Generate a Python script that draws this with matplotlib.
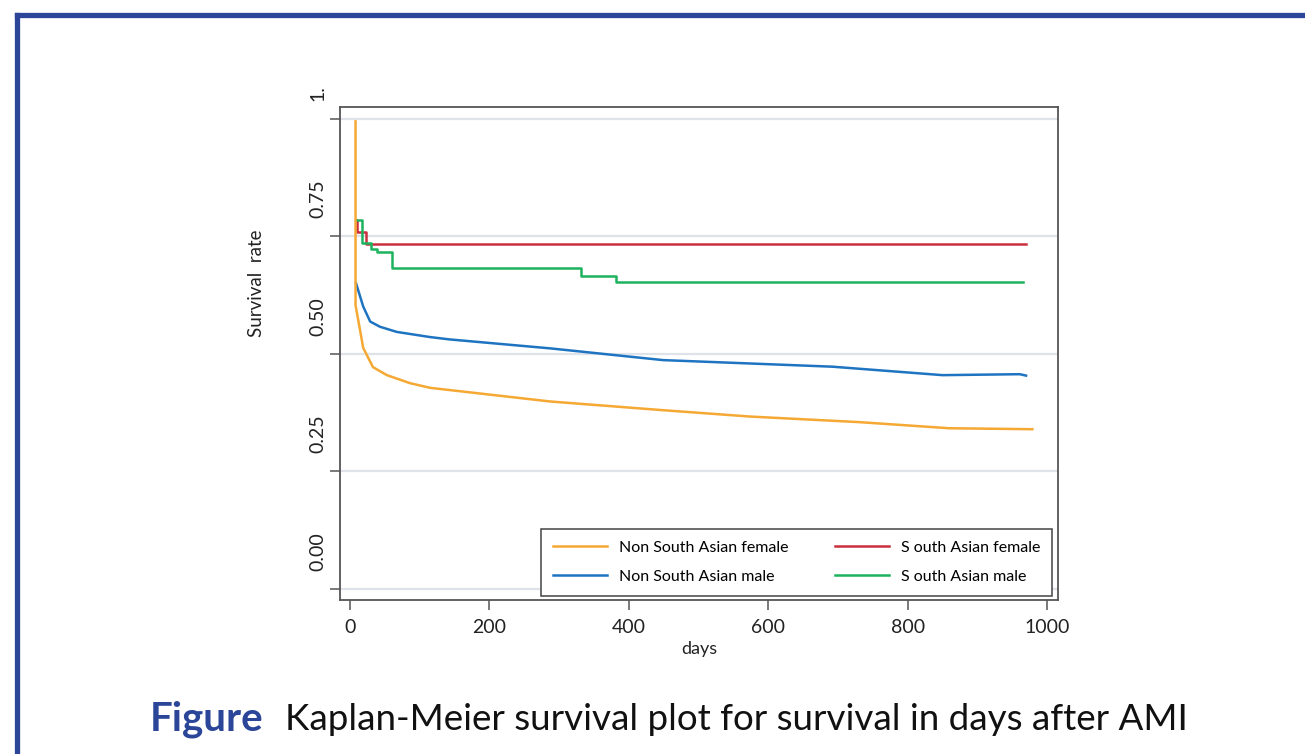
import numpy as np
import matplotlib
matplotlib.use("Agg")
import matplotlib.pyplot as plt
from matplotlib.lines import Line2D
from matplotlib.transforms import ScaledTranslation

plt.rcParams['font.family'] = ['Lato', 'DejaVu Sans']

# data
nsa_female_days = [8, 8, 19, 33, 53, 86, 115, 287, 444, 573, 731, 860, 979]
nsa_female_surv = [0.995, 0.604, 0.513, 0.472, 0.455, 0.438, 0.428, 0.399, 0.381, 0.367, 0.355, 0.342, 0.340]

nsa_male_days = [8.6, 19, 29, 43, 67, 115, 143, 287, 449, 692, 850, 961, 970]
nsa_male_surv = [0.651, 0.601, 0.569, 0.558, 0.547, 0.536, 0.531, 0.512, 0.487, 0.473, 0.455, 0.457, 0.454]

sa_female_days = [8, 9.6, 23, 970]
sa_female_surv = [0.785, 0.760, 0.733, 0.733]

sa_male_days = [8, 17.7, 30, 39, 60, 332, 382, 966]
sa_male_surv = [0.785, 0.737, 0.724, 0.716, 0.682, 0.666, 0.653, 0.653]

ytick_vals = [0, 0.25, 0.5, 0.75, 1.0]
ytick_labels = ['0.00', '0.25', '0.50', '0.75', '1.']
xtick_vals = [0, 200, 400, 600, 800, 1000]

c_orange = '#F5A833'
c_blue = '#1F74C2'
c_red = '#C9303E'
c_green = '#1DB35E'

fig = plt.figure(figsize=(13.05, 7.54), dpi=100)
ax = fig.add_axes([340 / 1305, 154 / 754, 718 / 1305, 493 / 754])

ax.plot(nsa_female_days, nsa_female_surv, color=c_orange, lw=1.8, label='Non South Asian female', zorder=4)
ax.step(sa_female_days, sa_female_surv, where='post', color=c_red, lw=1.8, label='S outh Asian female', zorder=3)
ax.plot(nsa_male_days, nsa_male_surv, color=c_blue, lw=1.8, label='Non South Asian male', zorder=3)
ax.step(sa_male_days, sa_male_surv, where='post', color=c_green, lw=1.8, label='S outh Asian male', zorder=3)

ax.set_xlim(-14.3, 1015.8)
ax.set_ylim(-0.0234, 1.0255)
ax.set_xticks(xtick_vals)
ax.set_yticks(ytick_vals)
ax.set_yticklabels(ytick_labels)
ax.grid(axis='y', color='#DEE3EA', lw=1.6)
ax.set_axisbelow(True)
for s in ax.spines.values():
    s.set_color('#555555')
    s.set_linewidth(1.3)
ax.tick_params(axis='both', direction='out', length=7, width=1.1, color='#555555', labelsize=14, labelcolor='#222222')
ax.tick_params(axis='x', pad=7)
ax.tick_params(axis='y', pad=3)

shift = ScaledTranslation(0, 18 / 100, fig.dpi_scale_trans)
for lab in ax.get_yticklabels():
    lab.set_rotation(90)
    lab.set_va('bottom')
    lab.set_ha('right')
    lab.set_transform(lab.get_transform() + shift)

ax.set_xlabel('days', fontsize=13, labelpad=3, color='#222222')
fig.text(257 / 1305, 1 - 283 / 754, 'Survival  rate', rotation=90, fontsize=13.5,
         ha='center', va='center', color='#222222')

h, l = ax.get_legend_handles_labels()
order = [0, 2, 1, 3]
leg = ax.legend([h[i] for i in order], [l[i] for i in order], ncol=2, loc='lower left',
                bbox_to_anchor=(0.28, 0.008, 0.7116, 0.14), mode='expand',
                fancybox=False, fontsize=11.5, handlelength=3.4, handletextpad=0.7,
                labelspacing=0.95, borderpad=0.75, columnspacing=1.5,
                borderaxespad=0, framealpha=1)
leg.get_frame().set_edgecolor('#444444')
leg.get_frame().set_linewidth(1.1)

# outer journal frame
frame_c = '#2B4699'
fig.add_artist(Line2D([16.5 / 1305, 16.5 / 1305], [-0.1, 1 - 14.5 / 754], color=frame_c, lw=3.8, transform=fig.transFigure))
fig.add_artist(Line2D([16.5 / 1305, 1.1], [1 - 14.5 / 754, 1 - 14.5 / 754], color=frame_c, lw=3.8, transform=fig.transFigure))

fig.text(150 / 1305, 24 / 754, 'Figure', fontsize=29, fontweight='bold', color=frame_c, va='baseline')
fig.text(285 / 1305, 24 / 754, 'Kaplan-Meier survival plot for survival in days after AMI', fontsize=26.5,
         color='#111111', va='baseline')

fig.savefig('out.png', dpi=100)
